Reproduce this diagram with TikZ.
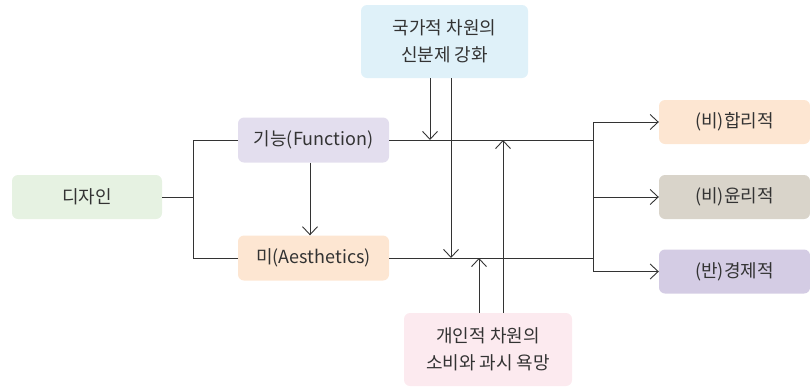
\documentclass[tikz,border=0pt]{standalone}
\usepackage{fontspec}
\setmainfont{Noto Sans CJK KR}
\usetikzlibrary{arrows.meta}
\definecolor{txtgray}{HTML}{333333}
\definecolor{linegray}{HTML}{333333}
\definecolor{boxgreen}{HTML}{E6F2E2}
\definecolor{boxlav}{HTML}{E3DEEE}
\definecolor{boxpeach}{HTML}{FDE6D2}
\definecolor{boxblue}{HTML}{DFF1F9}
\definecolor{boxpink}{HTML}{FCEAEF}
\definecolor{boxtaupe}{HTML}{D9D4CA}
\definecolor{boxpurple}{HTML}{D4CCE4}
\begin{document}
\begin{tikzpicture}[x=1pt,y=-1pt,
  every node/.style={font=\fontsize{18}{27}\selectfont,text=txtgray},
  box/.style={rounded corners=6pt,minimum width=151pt,minimum height=44pt,inner sep=0pt},
  tallbox/.style={rounded corners=6pt,minimum width=167pt,minimum height=73pt,inner sep=0pt,align=center},
  conn/.style={draw=linegray,line width=0.9pt},
  >={Straight Barb[length=8pt,width=15pt]}]
\useasboundingbox (0,0) rectangle (810,389);
% left side
\node[box,fill=boxgreen,minimum width=150pt] (design) at (87,197) {디자인};
\node[box,fill=boxlav,minimum height=45pt] (func) at (313.5,140) {기능(Function)};
\node[box,fill=boxpeach,minimum height=45pt] (aes) at (313.5,258) {미(Aesthetics)};
\coordinate (lj) at (193,197);
\draw[conn] (design.east) -- (lj);
\draw[conn] (func.west) -- (func.west -| lj) -- (aes.west -| lj) -- (aes.west);
\draw[conn,->] (func.south -| 310,0) -- (aes.north -| 310,0);
% top and bottom causes
\node[tallbox,fill=boxblue] (nation) at (444.5,41.5) {국가적 차원의\\신분제 강화};
\node[tallbox,fill=boxpink,minimum width=168pt] (person) at (488,349.5) {개인적 차원의\\소비와 과시 욕망};
% right side
\node[box,fill=boxpeach] (rational) at (734.5,122) {(비)합리적};
\node[box,fill=boxtaupe] (ethical) at (734.5,197) {(비)윤리적};
\node[box,fill=boxpurple] (economic) at (734.5,271.5) {(반)경제적};
\coordinate (rj) at (593,197);
\draw[conn] (func.east) -- (func.east -| rj);
\draw[conn] (aes.east) -- (aes.east -| rj);
\draw[conn] (rj |- rational.west) -- (rj |- economic.west);
\foreach \t in {rational,ethical,economic}
  \draw[conn,->] (rj |- \t.west) -- (\t.west);
% influences on both lines
\draw[conn,->] ([xshift=-14.5pt]nation.south) -- ([xshift=-14.5pt]nation.south |- func.east);
\draw[conn,->] ([xshift=6.5pt]nation.south) -- ([xshift=6.5pt]nation.south |- aes.east);
\draw[conn,->] ([xshift=-9pt]person.north) -- ([xshift=-9pt]person.north |- aes.east);
\draw[conn,->] ([xshift=15pt]person.north) -- ([xshift=15pt]person.north |- func.east);
\end{tikzpicture}
\end{document}
